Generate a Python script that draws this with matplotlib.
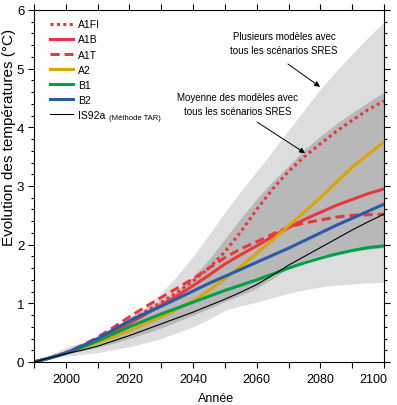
import matplotlib
matplotlib.use('Agg')
import matplotlib.pyplot as plt
import matplotlib.transforms as mtransforms

plt.rcParams['font.family'] = ['Liberation Sans', 'DejaVu Sans']

# Donnees (tous les 5 ans)
annees = list(range(1990, 2101, 5))

a1fi = [0, 0.07, 0.16, 0.26, 0.38, 0.53, 0.70, 0.86, 1.02, 1.19, 1.38, 1.60, 1.88, 2.22, 2.60, 2.95,
        3.25, 3.50, 3.72, 3.93, 4.12, 4.30, 4.45]
a1b = [0, 0.07, 0.15, 0.26, 0.38, 0.52, 0.66, 0.81, 0.97, 1.13, 1.30, 1.48, 1.67, 1.83, 1.98, 2.14,
       2.29, 2.43, 2.55, 2.67, 2.77, 2.87, 2.95]
a1t = [0, 0.07, 0.16, 0.28, 0.42, 0.59, 0.77, 0.94, 1.10, 1.26, 1.42, 1.60, 1.78, 1.93, 2.05, 2.18,
       2.30, 2.37, 2.42, 2.47, 2.50, 2.51, 2.52]
a2 = [0, 0.07, 0.15, 0.24, 0.33, 0.43, 0.53, 0.65, 0.77, 0.90, 1.04, 1.22, 1.42, 1.63, 1.85, 2.08,
      2.32, 2.56, 2.80, 3.06, 3.32, 3.54, 3.75]
b1 = [0, 0.07, 0.15, 0.25, 0.36, 0.48, 0.60, 0.71, 0.82, 0.92, 1.02, 1.12, 1.22, 1.31, 1.40, 1.50,
      1.60, 1.69, 1.77, 1.84, 1.90, 1.95, 1.98]
b2 = [0, 0.07, 0.15, 0.27, 0.40, 0.55, 0.70, 0.83, 0.95, 1.08, 1.21, 1.34, 1.46, 1.58, 1.70, 1.82,
      1.94, 2.07, 2.20, 2.33, 2.45, 2.57, 2.69]
is92a = [0, 0.07, 0.14, 0.20, 0.27, 0.36, 0.45, 0.55, 0.65, 0.75, 0.85, 0.96, 1.07, 1.19, 1.32, 1.48,
         1.65, 1.80, 1.95, 2.10, 2.25, 2.39, 2.52]

# enveloppe plusieurs modeles (gris clair)
env_haut = [0, 0.12, 0.25, 0.33, 0.42, 0.55, 0.72, 0.93, 1.18, 1.47, 1.80, 2.17, 2.55, 2.91, 3.25,
            3.60, 3.95, 4.30, 4.65, 4.96, 5.25, 5.53, 5.80]
env_bas = [0, 0.05, 0.10, 0.13, 0.16, 0.21, 0.26, 0.33, 0.40, 0.50, 0.60, 0.73, 0.88, 0.96, 1.02,
           1.10, 1.17, 1.23, 1.28, 1.31, 1.33, 1.35, 1.36]
# enveloppe moyenne des modeles (gris fonce)
moy_haut = [0, 0.09, 0.18, 0.29, 0.42, 0.58, 0.76, 0.90, 1.05, 1.22, 1.45, 1.75, 2.10, 2.45, 2.78,
            3.08, 3.35, 3.62, 3.85, 4.06, 4.25, 4.43, 4.60]
moy_bas = [0, 0.07, 0.13, 0.19, 0.25, 0.32, 0.40, 0.49, 0.58, 0.69, 0.80, 0.91, 1.03, 1.14, 1.26,
           1.42, 1.60, 1.74, 1.82, 1.86, 1.89, 1.92, 1.95]

rouge = '#e8383d'
jaune = '#d8a800'
vert = '#00a04a'
bleu = '#2b5ba8'

fig = plt.figure(figsize=(3.97, 4.06), dpi=100)
ax = fig.add_axes([34/397, 1-363/406, 350/397, 352/406])

ax.fill_between(annees, env_bas, env_haut, color='#dddddd', lw=0)
ax.fill_between(annees, moy_bas, moy_haut, color='#b8b8b8', lw=0)

ax.plot(annees, a1fi, color=rouge, lw=2.2, ls=(0, (1, 1.1)), label='A1FI')
ax.plot(annees, a1b, color=rouge, lw=2.2, label='A1B')
ax.plot(annees, a1t, color=rouge, lw=2.2, ls=(0, (3, 1.6)), label='A1T')
ax.plot(annees, a2, color=jaune, lw=2.2, label='A2')
ax.plot(annees, b1, color=vert, lw=2.2, label='B1')
ax.plot(annees, b2, color=bleu, lw=2.2, label='B2')
ax.plot(annees, is92a, color='black', lw=0.8, label='IS92a')

leg = ax.legend(loc='upper left', bbox_to_anchor=(0.019, 1.0), frameon=False,
                fontsize=7.5, handlelength=2.2, handletextpad=0.48, labelspacing=0.49)
ax.text(0.215, 0.696, '(Méthode TAR)', transform=ax.transAxes, fontsize=5.5, va='center')

# annotations
ax.text(2068.6, 5.44, 'Plusieurs modèles avec\ntous les scénarios SRES', ha='center', va='center',
        fontsize=7, linespacing=1.5)
ax.annotate('', xy=(2079.9, 4.69), xytext=(2069.8, 5.08),
            arrowprops=dict(arrowstyle='-|>', color='black', lw=0.7, mutation_scale=8, shrinkA=0, shrinkB=0))
ax.text(2054.1, 4.40, 'Moyenne des modèles avec\ntous les scénarios SRES', ha='center', va='center',
        fontsize=7, linespacing=1.5)
ax.annotate('', xy=(2075.2, 3.56), xytext=(2060.1, 4.09),
            arrowprops=dict(arrowstyle='-|>', color='black', lw=0.7, mutation_scale=8, shrinkA=0, shrinkB=0))

ax.set_xlim(1990, 2100)
ax.set_ylim(0, 6)
ax.set_xticks(range(1990, 2101, 10))
ax.set_xticklabels(['' if a % 20 else str(a) for a in range(1990, 2101, 10)])
ax.set_yticks(range(0, 7))
ax.set_yticks([i * 0.2 for i in range(31)], minor=True)
ax.tick_params(which='both', direction='out', top=True, right=True, width=0.8)
ax.tick_params(axis='x', length=4, labelsize=9, pad=4)
ax.tick_params(axis='y', which='major', length=4.5, labelsize=9.5, pad=2.5)
ax.tick_params(axis='y', which='minor', length=2.2)

# dernier label decale pour rester dans l'image
dernier = ax.get_xticklabels()[-1]
dernier.set_horizontalalignment('right')
dernier.set_transform(dernier.get_transform() + mtransforms.ScaledTranslation(3/100, 0, fig.dpi_scale_trans))

ax.set_xlabel('Année', fontsize=9)
ax.xaxis.set_label_coords(0.52, -0.085)
ax.set_ylabel('Evolution des températures (°C)', fontsize=11)
ax.yaxis.set_label_coords(-0.052, 0.642)

fig.savefig('out.png', dpi=100)
